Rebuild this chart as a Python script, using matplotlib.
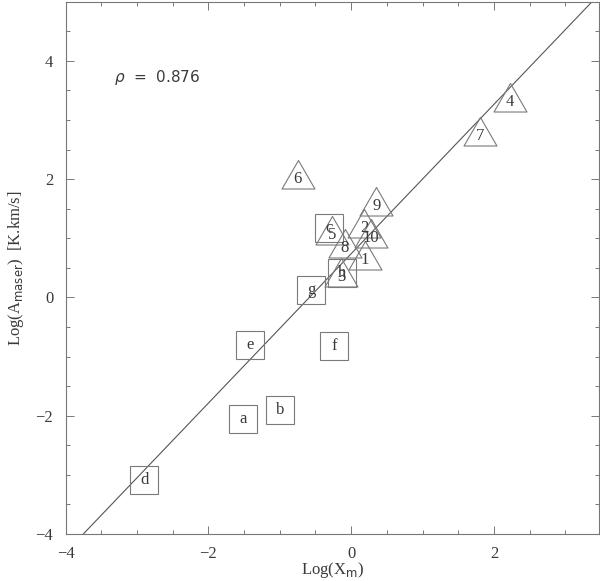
import matplotlib
matplotlib.use("Agg")
import matplotlib.pyplot as plt
from matplotlib.path import Path
from matplotlib.ticker import MultipleLocator
import numpy as np

# Triangle sources (numbered)
tri_labels = ["1", "2", "3", "4", "5", "6", "7", "8", "9", "10"]
tri_x = [0.19, 0.18, -0.14, 2.22, -0.27, -0.75, 1.80, -0.09, 0.35, 0.28]
tri_y = [0.64, 1.17, 0.34, 3.30, 1.05, 2.00, 2.73, 0.84, 1.55, 1.01]

# Square sources (lettered)
sq_labels = ["a", "b", "c", "d", "e", "f", "g", "h"]
sq_x = [-1.52, -1.00, -0.31, -2.90, -1.42, -0.24, -0.56, -0.13]
sq_y = [-2.05, -1.91, 1.18, -3.09, -0.81, -0.82, 0.13, 0.42]

# Fitted relation
fit_slope = 1.2626
fit_intercept = 0.739
rho_text = r"$\rho$  =  0.876"

serif = ["Liberation Serif", "DejaVu Serif"]
edge = "#7a7a7a"
txt = "#3a3a3a"

fig = plt.figure(figsize=(6.0, 5.81), dpi=100)
ax = fig.add_axes([0.1095, 0.0809, 0.998 - 0.1095, 0.997 - 0.0809])
ax.set_xlim(-4, 3.47)
ax.set_ylim(-4, 5)

# fit line
xx = np.array([-4.5, 4.0])
ax.plot(xx, fit_slope * xx + fit_intercept, color="#555555", lw=0.8, zorder=2)

# equilateral triangle with centroid at origin
tri_path = Path([(0, 1), (-0.866, -0.5), (0.866, -0.5), (0, 1)],
                [Path.MOVETO, Path.LINETO, Path.LINETO, Path.CLOSEPOLY])

ax.plot(tri_x, tri_y, linestyle="none", marker=tri_path, markersize=27.4,
        markerfacecolor="none", markeredgecolor=edge, markeredgewidth=0.8, zorder=3)
ax.plot(sq_x, sq_y, linestyle="none", marker="s", markersize=20,
        markerfacecolor="none", markeredgecolor=edge, markeredgewidth=0.8, zorder=3)

for lab, x, y in zip(tri_labels, tri_x, tri_y):
    ax.text(x, y, lab, ha="center", va="center", fontsize=12, family=serif, color=txt, zorder=4)
for lab, x, y in zip(sq_labels, sq_x, sq_y):
    ax.text(x, y, lab, ha="center", va="center", fontsize=12, family=serif, color=txt, zorder=4)

ax.text(-3.32, 3.72, rho_text, ha="left", va="center", fontsize=11, color=txt)

ax.xaxis.set_major_locator(MultipleLocator(2))
ax.xaxis.set_minor_locator(MultipleLocator(0.5))
ax.yaxis.set_major_locator(MultipleLocator(2))
ax.yaxis.set_minor_locator(MultipleLocator(0.5))
ax.tick_params(which="both", direction="in", top=True, right=True, color="#777777")
ax.tick_params(which="major", length=6, width=0.7, pad=9, labelsize=12, labelcolor=txt)
ax.tick_params(which="minor", length=3, width=0.7)
for lbl in ax.get_xticklabels() + ax.get_yticklabels():
    lbl.set_family(serif)
for s in ax.spines.values():
    s.set_color("#777777")
    s.set_linewidth(0.8)

ax.set_xlabel(r"Log(X$_{\rm m}$)", fontsize=12, family=serif, color=txt, labelpad=-2)
ax.set_ylabel(r"Log(A$_{\rm maser}$)  [K.km/s]", fontsize=12, family=serif, color=txt, labelpad=7)

fig.savefig("out.png", dpi=100)
